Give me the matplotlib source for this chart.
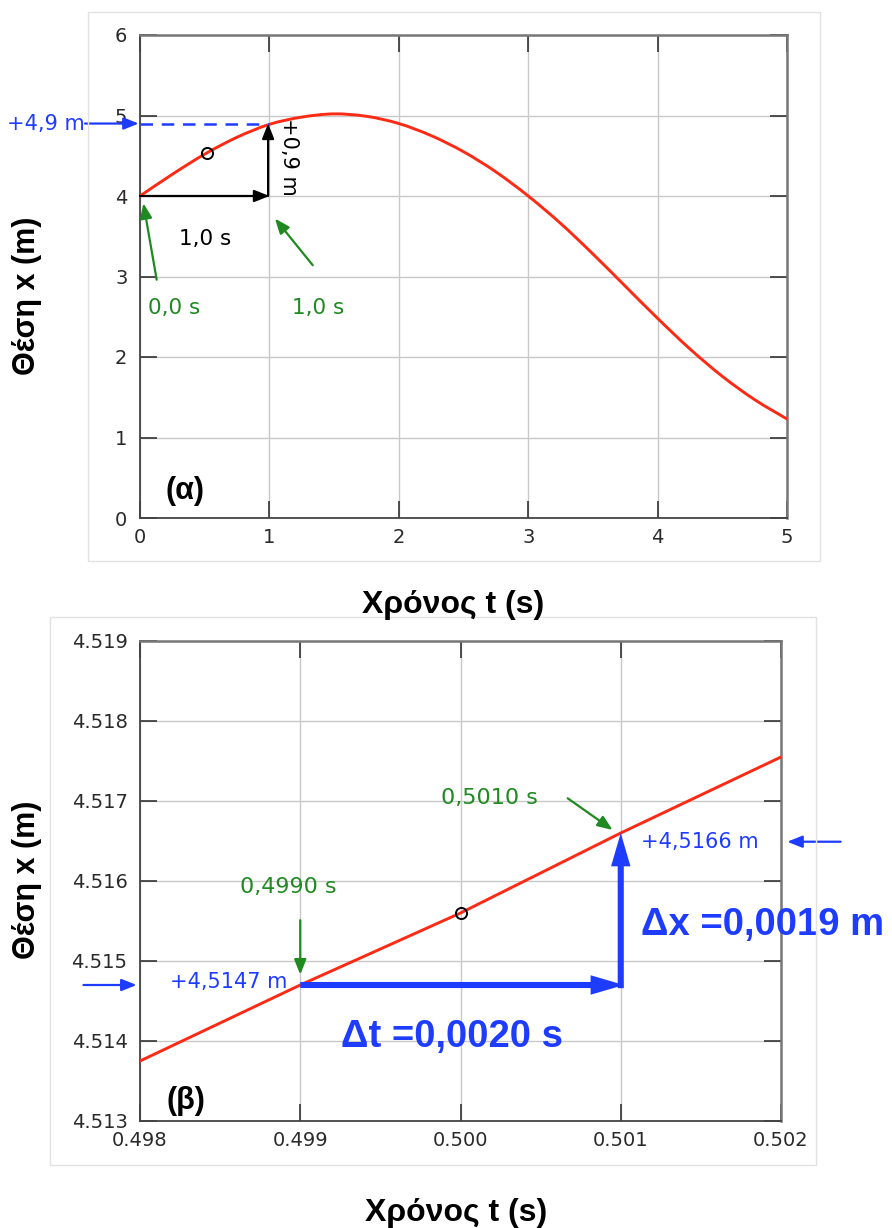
import matplotlib
matplotlib.use("Agg")
import matplotlib.pyplot as plt
from matplotlib.patches import Rectangle, FancyArrowPatch, PathPatch
from matplotlib.path import Path

# ---- data -------------------------------------------------------------
# position-time curve (panel a)
t_full = [0.0, 0.25, 0.5, 0.75, 1.0, 1.25, 1.5, 1.75, 2.0, 2.25, 2.5,
          2.75, 3.0, 3.25, 3.5, 3.75, 4.0, 4.25, 4.5, 4.75, 5.0]
x_full = [4.00, 4.27, 4.52, 4.73, 4.89, 4.98, 5.02, 4.99, 4.90, 4.75, 4.55,
          4.30, 4.00, 3.66, 3.28, 2.88, 2.48, 2.10, 1.76, 1.47, 1.23]
# zoomed view around t = 0.5 s (panel b)
t_zoom = [0.498, 0.499, 0.500, 0.501, 0.502]
x_zoom = [4.51375, 4.5147, 4.5156, 4.5166, 4.51755]

marked_a = (0.52, 4.54)
marked_b = (0.500, 4.5156)

t0, t1 = 0.0, 1.0
x0_a, x1_a = 4.0, 4.9
tb0, tb1 = 0.499, 0.501
xb0, xb1 = 4.5147, 4.5166

xticks_a = [0, 1, 2, 3, 4, 5]
yticks_a = [0, 1, 2, 3, 4, 5, 6]
xticks_b = [0.498, 0.499, 0.500, 0.501, 0.502]
yticks_b = [4.513, 4.514, 4.515, 4.516, 4.517, 4.518, 4.519]
xticklabels_b = ["0.498", "0.499", "0.500", "0.501", "0.502"]
yticklabels_b = ["4.513", "4.514", "4.515", "4.516", "4.517", "4.518", "4.519"]

# ---- style ------------------------------------------------------------
RED = "#ff2a14"
BLUE = "#1e3cff"
GREEN = "#1f8a1f"
SMALL = ["DejaVu Sans"]
BOLD = ["Liberation Sans", "DejaVu Sans"]

W, H = 892, 1228
fig = plt.figure(figsize=(W / 100, H / 100), dpi=100)
fig.patch.set_facecolor("white")


def fx(px):
    return px / W


def fy(py):
    return 1 - py / H


# light frames around each panel
fig.add_artist(Rectangle((fx(88), fy(561)), fx(820) - fx(88), fy(12) - fy(561),
                         transform=fig.transFigure, fill=False,
                         ec="#e2e2e2", lw=1))
fig.add_artist(Rectangle((fx(50), fy(1165)), fx(816) - fx(50), fy(617) - fy(1165),
                         transform=fig.transFigure, fill=False,
                         ec="#e2e2e2", lw=1))


def style_axes(ax):
    ax.grid(True, color="#c8c8c8", lw=1.0)
    ax.set_axisbelow(True)
    for side in ["left", "bottom"]:
        ax.spines[side].set_color("#444444")
        ax.spines[side].set_linewidth(1.3)
    for side in ["top", "right"]:
        ax.spines[side].set_color("#777777")
        ax.spines[side].set_linewidth(1.8)
    ax.tick_params(direction="in", length=12, width=1.2, color="#333333",
                   top=True, right=True, labelsize=14, pad=7,
                   labelcolor="#2a2a2a")
    ax.tick_params(axis="y", pad=9)
    for lab in ax.get_xticklabels() + ax.get_yticklabels():
        lab.set_family(SMALL)


def smooth_curve(ax, xs, ys, **kw):
    """Draw a smooth curve passing through every given point (Catmull-Rom)."""
    n = len(xs)
    px = [xs[0]] + list(xs) + [xs[-1]]
    py = [ys[0]] + list(ys) + [ys[-1]]
    verts = [(xs[0], ys[0])]
    codes = [Path.MOVETO]
    for i in range(1, n):
        a, b, c, d = i - 1, i, i + 1, i + 2
        c1 = (px[b] + (px[c] - px[a]) / 6, py[b] + (py[c] - py[a]) / 6)
        c2 = (px[c] - (px[d] - px[b]) / 6, py[c] - (py[d] - py[b]) / 6)
        verts += [c1, c2, (px[c], py[c])]
        codes += [Path.CURVE4] * 3
    ax.add_patch(PathPatch(Path(verts, codes), fill=False, **kw))


def thin_arrow(ax, start, end, color, lw=1.6, ms=15):
    ax.annotate("", xy=end, xytext=start, xycoords="data",
                textcoords="data", annotation_clip=False,
                arrowprops=dict(arrowstyle="-|>,head_length=0.6,head_width=0.24",
                                color=color, lw=lw, shrinkA=0, shrinkB=0,
                                mutation_scale=ms))


def thick_arrow(ax, start, end, color):
    p = FancyArrowPatch(start, end,
                        arrowstyle="simple,tail_width=0.22,head_width=0.7,head_length=1.2",
                        mutation_scale=20, color=color, lw=0,
                        shrinkA=0, shrinkB=0, clip_on=False, zorder=4)
    ax.add_patch(p)


# ---- panel (a) ------------------------------------------------------------
ax1 = fig.add_axes([fx(140), fy(518), fx(787) - fx(140), fy(35) - fy(518)])
smooth_curve(ax1, t_full, x_full, ec=RED, lw=2.1, zorder=3, capstyle="round")
ax1.set_xlim(0, 5)
ax1.set_ylim(0, 6)
ax1.set_xticks(xticks_a)
ax1.set_yticks(yticks_a)
style_axes(ax1)
ax1.plot(*marked_a, marker="o", ms=8, mfc="none", mec="black", mew=1.4, zorder=4)

# dashed level line and arrows
ax1.plot([t0, t1], [x1_a, x1_a], color=BLUE, lw=1.8, ls=(0, (5, 3.5)), zorder=3)
thin_arrow(ax1, (t0, x0_a), (t1, x0_a), "black", lw=1.6)
thin_arrow(ax1, (t1 - 0.01, x0_a), (t1 - 0.01, x1_a), "black", lw=1.6)
thin_arrow(ax1, (-0.425, x1_a), (-0.01, x1_a), BLUE, lw=1.6)
ax1.text(-0.43, x1_a, "+4,9 m", color=BLUE, fontsize=15, family=SMALL,
         ha="right", va="center", clip_on=False)
ax1.text(1.15, 4.49, "+0,9 m", color="black", fontsize=15, family=SMALL,
         rotation=-90, ha="center", va="center")
ax1.text(0.5, 3.47, "1,0 s", color="black", fontsize=15.5, family=SMALL,
         ha="center", va="center")
thin_arrow(ax1, (0.129, 2.96), (0.026, 3.91), GREEN, lw=1.6)
thin_arrow(ax1, (1.335, 3.14), (1.043, 3.72), GREEN, lw=1.6)
ax1.text(0.26, 2.61, "0,0 s", color=GREEN, fontsize=15.5, family=SMALL,
         ha="center", va="center")
ax1.text(1.38, 2.61, "1,0 s", color=GREEN, fontsize=15.5, family=SMALL,
         ha="center", va="center")
ax1.text(0.35, 0.33, "(α)", color="black", fontsize=22, family=BOLD,
         fontweight="bold", ha="center", va="center")

# ---- panel (b) ------------------------------------------------------------
ax2 = fig.add_axes([fx(140), fy(1121), fx(781) - fx(140), fy(641) - fy(1121)])
ax2.plot(t_zoom, x_zoom, color=RED, lw=2.1, zorder=3)
ax2.set_xlim(0.498, 0.502)
ax2.set_ylim(4.513, 4.519)
ax2.set_xticks(xticks_b)
ax2.set_xticklabels(xticklabels_b)
ax2.set_yticks(yticks_b)
ax2.set_yticklabels(yticklabels_b)
style_axes(ax2)
ax2.plot(*marked_b, marker="o", ms=8, mfc="none", mec="black", mew=1.4, zorder=5)

thick_arrow(ax2, (tb0, xb0), (tb1 + 0.00002, xb0), BLUE)
thick_arrow(ax2, (tb1, xb0 - 0.00004), (tb1, xb1), BLUE)

ax2.text(0.498925, 4.51592, "0,4990 s", color=GREEN, fontsize=16, family=SMALL,
         ha="center", va="center")
thin_arrow(ax2, (tb0, 4.51551), (tb0, 4.51483), GREEN, lw=1.6)
ax2.text(0.49892, 4.51474, "+4,5147 m", color=BLUE, fontsize=15, family=SMALL,
         ha="right", va="center")
thin_arrow(ax2, (0.497647, xb0), (0.497979, xb0), BLUE, lw=1.6)

ax2.text(0.500181, 4.517038, "0,5010 s", color=GREEN, fontsize=16, family=SMALL,
         ha="center", va="center")
thin_arrow(ax2, (0.500669, 4.517034), (0.500949, 4.516638), GREEN, lw=1.6)
ax2.text(0.501128, 4.516488, "+4,5166 m", color=BLUE, fontsize=15, family=SMALL,
         ha="left", va="center")
thin_arrow(ax2, (0.502372, 4.516491), (0.502039, 4.516491), BLUE, lw=1.6)

ax2.text(0.501126, 4.51545, "Δx =0,0019 m", color=BLUE, fontsize=27.5,
         family=BOLD, fontweight="bold", ha="left", va="center", clip_on=False)
ax2.text(0.499944, 4.51405, "Δt =0,0020 s", color=BLUE, fontsize=27.5,
         family=BOLD, fontweight="bold", ha="center", va="center")
ax2.text(0.498287, 4.51325, "(β)", color="black", fontsize=22, family=BOLD,
         fontweight="bold", ha="center", va="center")

# ---- axis titles ------------------------------------------------------------
fig.text(fx(453), fy(613), "Χρόνος t (s)", fontsize=23, fontweight="bold",
         family=BOLD, ha="center", va="baseline")
fig.text(fx(456), fy(1221), "Χρόνος t (s)", fontsize=23, fontweight="bold",
         family=BOLD, ha="center", va="baseline")
fig.text(fx(27), fy(296), "Θέση x (m)", fontsize=22, fontweight="bold",
         family=BOLD, rotation=90, ha="center", va="center")
fig.text(fx(27), fy(880), "Θέση x (m)", fontsize=22, fontweight="bold",
         family=BOLD, rotation=90, ha="center", va="center")

fig.savefig("out.png", dpi=100, facecolor="white")
